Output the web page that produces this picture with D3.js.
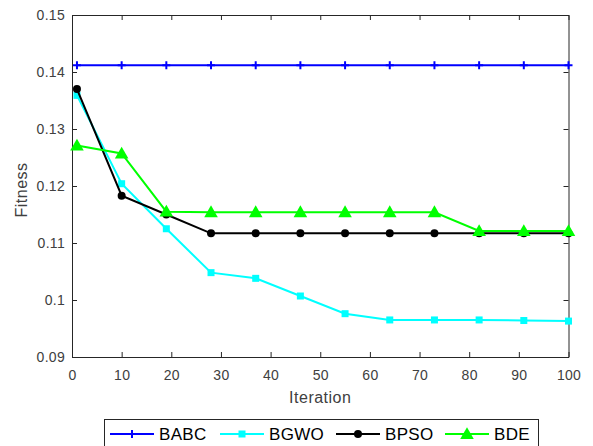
<!DOCTYPE html>
<html>
<head>
<meta charset="utf-8">
<script src="https://cdn.jsdelivr.net/npm/d3@7"></script>
<style>
  body { margin: 0; background: #fff; }
  svg { display: block; font-family: "Liberation Sans", Arial, sans-serif; }
</style>
</head>
<body>
<div id="chart"></div>
<script>
// data
let iterations = [1, 10, 19, 28, 37, 46, 55, 64, 73, 82, 91, 100];
let babc = [0.1412, 0.1412, 0.1412, 0.1412, 0.1412, 0.1412, 0.1412, 0.1412, 0.1412, 0.1412, 0.1412, 0.1412];
let bgwo = [0.1359, 0.1204, 0.1125, 0.1048, 0.1038, 0.1007, 0.0976, 0.0965, 0.0965, 0.0965, 0.0964, 0.0963];
let bpso = [0.1370, 0.1183, 0.1150, 0.1117, 0.1117, 0.1117, 0.1117, 0.1117, 0.1117, 0.1117, 0.1117, 0.1117];
let bde  = [0.1271, 0.1257, 0.1155, 0.1154, 0.1154, 0.1154, 0.1154, 0.1154, 0.1154, 0.1121, 0.1121, 0.1121];
let xTicks = [0, 10, 20, 30, 40, 50, 60, 70, 80, 90, 100];
let yTicks = [0.09, 0.10, 0.11, 0.12, 0.13, 0.14, 0.15];
let yTickLabels = ["0.09", "0.1", "0.11", "0.12", "0.13", "0.14", "0.15"];

let series = [
  {name: "BABC", values: babc, color: "#0000ff", marker: "plus"},
  {name: "BGWO", values: bgwo, color: "#00ffff", marker: "square"},
  {name: "BPSO", values: bpso, color: "#000000", marker: "circle"},
  {name: "BDE",  values: bde,  color: "#00ff00", marker: "triangle"}
];

let width = 593, height = 446;
let plotLeft = 72, plotRight = 568.5, plotTop = 15, plotBottom = 357;
let axisColor = "#262626", textColor = "#404040";

let svg = d3.select("#chart").append("svg")
    .attr("width", width)
    .attr("height", height);

let x = d3.scaleLinear().domain([0, 100]).range([plotLeft, plotRight]);
let y = d3.scaleLinear().domain([0.09, 0.15]).range([plotBottom, plotTop]);

// axes (box with inward ticks on all sides)
let xb = svg.append("g").attr("transform", `translate(0,${plotBottom})`)
    .call(d3.axisBottom(x).tickValues(xTicks).tickSizeInner(-5).tickSizeOuter(0).tickPadding(13));
let xt = svg.append("g").attr("transform", `translate(0,${plotTop})`)
    .call(d3.axisTop(x).tickValues(xTicks).tickSizeInner(-5).tickSizeOuter(0).tickFormat(""));
let yl = svg.append("g").attr("transform", `translate(${plotLeft},0)`)
    .call(d3.axisLeft(y).tickValues(yTicks).tickSizeInner(-5).tickSizeOuter(0).tickPadding(7)
      .tickFormat((d, i) => yTickLabels[i]));
let yr = svg.append("g").attr("transform", `translate(${plotRight},0)`)
    .call(d3.axisRight(y).tickValues(yTicks).tickSizeInner(-5).tickSizeOuter(0).tickFormat(""));

[xb, xt, yl, yr].forEach(g => {
  g.select(".domain").attr("stroke", axisColor).attr("stroke-width", 1);
  g.selectAll(".tick line").attr("stroke", axisColor);
  g.selectAll(".tick text").attr("fill", textColor).style("font-size", "14px")
   .style("letter-spacing", "0.3px")
   .style("font-family", '"Liberation Sans", Arial, sans-serif');
});

// axis labels
svg.append("text")
   .attr("x", (plotLeft + plotRight) / 2).attr("y", 403)
   .attr("text-anchor", "middle")
   .attr("fill", textColor)
   .style("font-size", "16px")
   .style("letter-spacing", "0.5px")
   .text("Iteration");

svg.append("text")
   .attr("transform", `translate(27,190) rotate(-90)`)
   .attr("text-anchor", "middle")
   .attr("fill", textColor)
   .style("font-size", "16px")
   .style("letter-spacing", "0.5px")
   .text("Fitness");

// markers
function drawMarker(g, type, color, cx, cy) {
  if (type == "plus") {
    g.append("path").attr("d", `M${cx - 4},${cy}H${cx + 4}M${cx},${cy - 4}V${cy + 4}`)
     .attr("stroke", color).attr("stroke-width", 2);
  } else if (type == "square") {
    g.append("rect").attr("x", cx - 3.5).attr("y", cy - 3.5).attr("width", 7).attr("height", 7)
     .attr("fill", color);
  } else if (type == "circle") {
    g.append("circle").attr("cx", cx).attr("cy", cy).attr("r", 4).attr("fill", color);
  } else if (type == "triangle") {
    g.append("path").attr("d", d3.symbol().type(d3.symbolTriangle).size(80)())
     .attr("transform", `translate(${cx},${cy + 1})`)
     .attr("fill", color);
  }
}

let line = d3.line().x((d, i) => x(iterations[i])).y(d => y(d));

series.forEach(s => {
  let g = svg.append("g");
  g.append("path")
   .datum(s.values)
   .attr("d", line)
   .attr("fill", "none")
   .attr("stroke", s.color)
   .attr("stroke-width", 2);
  s.values.forEach((v, i) => drawMarker(g, s.marker, s.color, x(iterations[i]), y(v)));
});

// legend
let legend = svg.append("g");
legend.append("rect")
   .attr("x", 104.5).attr("y", 419.5).attr("width", 434).attr("height", 30)
   .attr("fill", "#fff").attr("stroke", axisColor).attr("stroke-width", 1);

let legendX = [110, 220, 336, 445];
series.forEach((s, i) => {
  let lx = legendX[i], ly = 434;
  legend.append("line")
     .attr("x1", lx).attr("x2", lx + 44).attr("y1", ly).attr("y2", ly)
     .attr("stroke", s.color).attr("stroke-width", 2);
  drawMarker(legend, s.marker, s.color, lx + 22, ly);
  legend.append("text")
     .attr("x", lx + 49).attr("y", ly + 6)
     .attr("fill", "#000")
     .style("font-size", "17px")
     .style("letter-spacing", "0.3px")
     .text(s.name);
});
</script>
</body>
</html>
